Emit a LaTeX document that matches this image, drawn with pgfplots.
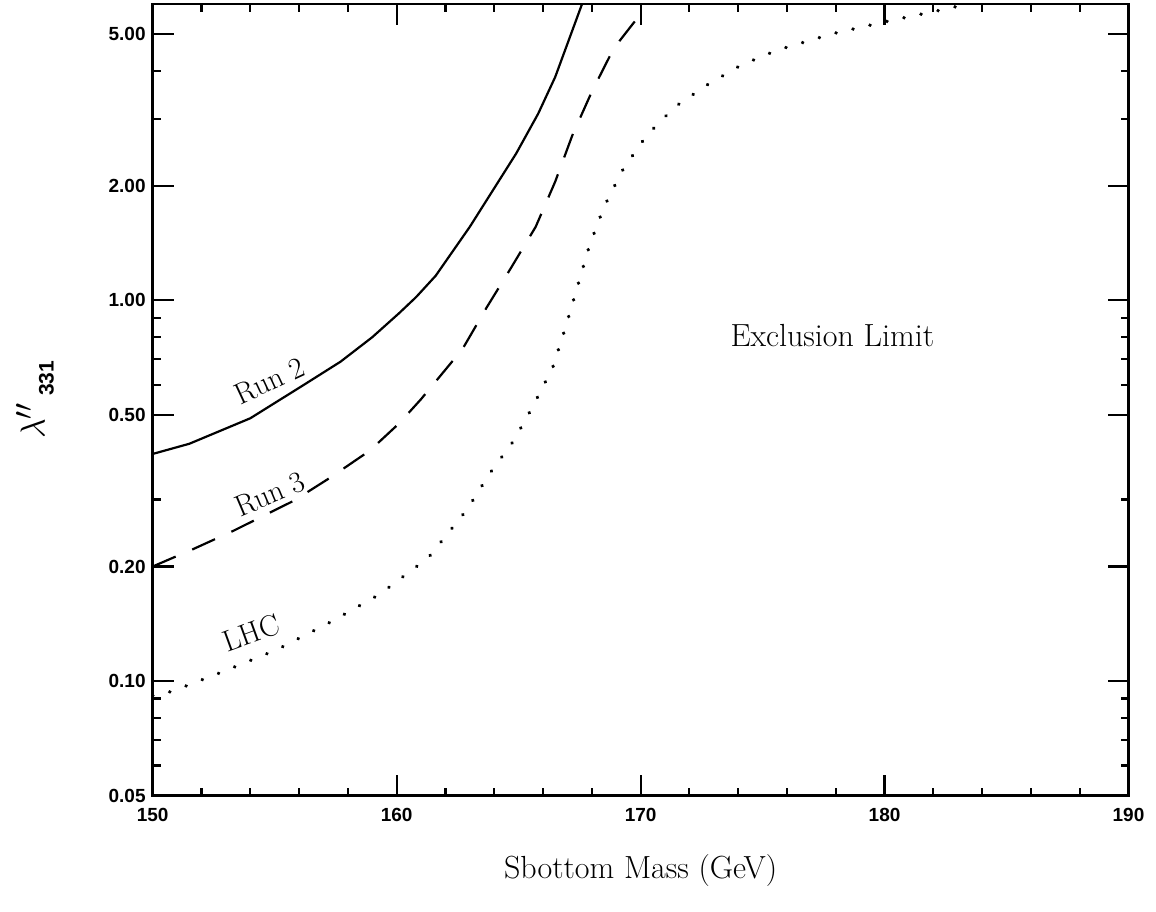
\documentclass[border=0pt]{standalone}
\usepackage{fontspec}
\setsansfont{Liberation Sans}
\usepackage{pgfplots}
\pgfplotsset{compat=1.18}
\newcommand\tickfont{\fontsize{9.5}{11}\selectfont\sffamily\bfseries}
\newcommand\labfont{\fontsize{16}{19}\selectfont}
\newcommand\runfont{\fontsize{15}{18}\selectfont}
\newcommand\ylab{\fontsize{19}{21}\selectfont$\lambda''$\,\raisebox{-4.5pt}{\sffamily\bfseries\fontsize{10.5}{12}\selectfont 331}}
\begin{document}
\begin{tikzpicture}
\begin{axis}[
  scale only axis, width=487.9pt, height=395.85pt,
  xmin=150, xmax=190, ymode=log, ymin=0.05, ymax=6,
  xtick={150,160,170,180,190},
  xticklabels={150,160,170,180,190},
  minor xtick={152,154,156,158,162,164,166,168,172,174,176,178,182,184,186,188},
  ytick={0.05,0.1,0.2,0.5,1,2,5},
  yticklabels={0.05,0.10,0.20,0.50,1.00,2.00,5.00},
  minor ytick={0.06,0.07,0.08,0.09,0.3,0.6,0.7,0.8,0.9,3,4},
  tick align=inside,
  major tick length=10.5pt, minor tick length=4pt,
  axis line style={line width=1.3pt},
  tick style={black, line width=1.1pt},
  tick label style={font=\tickfont},
  xticklabel style={yshift=-2.5pt},
  /pgf/number format/assume math mode=true,
  xlabel={Sbottom Mass (GeV)},
  ylabel={\ylab},
  xlabel style={font=\labfont, at={(axis description cs:0.5,-0.095)}, anchor=center},
  ylabel style={at={(axis description cs:-0.094,0.5)}, anchor=south},
]
\addplot[black, line width=1.1pt] coordinates {
(150,0.395) (151.5,0.42) (154,0.49) (156.2,0.60) (157.7,0.69) (159.0,0.80)
(160.1,0.925) (160.8,1.02) (161.6,1.16) (163.0,1.56) (164.9,2.43) (165.8,3.09)
(166.5,3.86) (167.6,6.0) (167.7,6.3)
};
\addplot[black, line width=1.1pt, dash pattern=on 12.5pt off 9pt] coordinates {
(150,0.20) (151.65,0.222) (153.3,0.248) (155.8,0.298) (157.3,0.343) (158.9,0.403)
(160.1,0.475) (161.0,0.55) (162.7,0.745) (163.7,0.96) (164.7,1.22)
(165.7,1.56) (166.5,2.05) (167.2,2.71) (168.0,3.53) (168.9,4.59) (170.0,5.65)
};
\addplot[black, line width=1.8pt, line cap=round, dash pattern=on 0.1pt off 8.6pt] coordinates {
(150,0.0915) (150.8,0.094) (152.9,0.106) (155.1,0.121) (157.3,0.143) (159.3,0.169)
(161.3,0.211) (162.9,0.283) (163.8,0.35) (164.8,0.428) (165.6,0.529) (166.4,0.667)
(166.9,0.84) (167.4,1.08) (167.9,1.39) (168.5,1.76) (169.3,2.22) (170.25,2.71)
(171.4,3.22) (172.7,3.67) (174.1,4.14) (175.6,4.54) (177.9,5.02) (180.2,5.42)
(182.5,5.82) (183.4,6.0)
};
\node[rotate=25] at (axis cs:154.8,0.615) {\runfont Run 2};
\node[rotate=23] at (axis cs:154.8,0.31) {\runfont Run 3};
\node[rotate=20] at (axis cs:154.05,0.134) {\runfont LHC};
\node at (axis cs:177.86,0.808) {\labfont Exclusion Limit};
\end{axis}
\pgfresetboundingbox
\path (current axis.south west) ++(-76.35pt,-57.65pt) rectangle ++(578pt,455.5pt);
\end{tikzpicture}
\end{document}
